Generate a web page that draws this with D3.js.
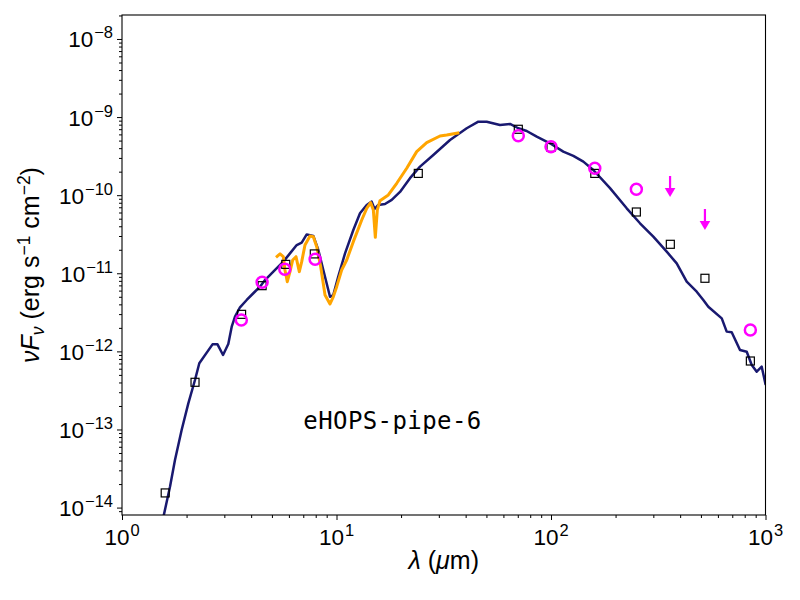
<!DOCTYPE html>
<html lang="en">
<head>
<meta charset="UTF-8">
<title>eHOPS-pipe-6 SED</title>
<script src="https://d3js.org/d3.v7.min.js"></script>
<style>
  body { margin: 0; background: #fff; }
  svg text { font-family: "Liberation Sans", Arial, Helvetica, sans-serif; fill: #000; }
  .tick line { stroke: #000; stroke-width: 1; }
</style>
</head>
<body>
<svg id="chart" width="800" height="600"></svg>
<script>
// model SED (wavelength in micron, nuFnu in erg s^-1 cm^-2)
const modelWave = [1.55, 1.674, 1.766, 1.897, 2.038, 2.189, 2.293, 2.642, 2.788, 2.958, 3.13, 3.247, 3.364, 3.549, 3.814,
  4.095, 4.399, 4.642, 5.076, 5.649, 6.07, 6.525, 6.884, 7.262, 7.797, 8.228, 8.68, 9.326, 9.66, 10.19, 10.96, 11.98,
  12.87, 13.83, 14.59, 15.04, 15.66, 16.83, 18.09, 19.77, 22.01, 24.51, 28.27, 33.82, 40.46, 45.83, 50.15, 57.83,
  64.41, 70.41, 77.04, 85.8, 98.9, 114.1, 127.1, 141.5, 157.5, 188.4, 225.4, 260.0, 299.9, 346.3, 385.5, 429.2,
  477.9, 512.9, 541.3, 625.2, 659.4, 695.8, 760.5, 817.5, 862.7, 910.0, 960.0, 1002];
const modelFlux = [7.0e-15, 1.85e-14, 4.07e-14, 9.86e-14, 2.16e-13, 4.30e-13, 7.05e-13, 1.23e-12, 1.23e-12, 9.0e-13,
  1.245e-12, 2.07e-12, 2.78e-12, 3.67e-12, 4.55e-12, 5.55e-12, 6.74e-12, 8.2e-12, 1.05e-11, 1.41e-11, 1.80e-11,
  2.30e-11, 2.47e-11, 3.14e-11, 3.0e-11, 1.99e-11, 1.10e-11, 5.0e-12, 5.27e-12, 9.04e-12, 1.80e-11, 3.58e-11,
  5.86e-11, 7.5e-11, 8.26e-11, 6.65e-11, 7.5e-11, 7.71e-11, 8.69e-11, 1.10e-10, 1.65e-10, 2.32e-10, 3.27e-10,
  5.09e-10, 7.19e-10, 8.73e-10, 8.73e-10, 7.93e-10, 8.17e-10, 7.19e-10, 6.64e-10, 5.61e-10, 4.62e-10, 3.61e-10,
  3.18e-10, 2.69e-10, 2.10e-10, 1.23e-10, 6.79e-11, 4.37e-11, 2.94e-11, 1.89e-11, 1.34e-11, 7.80e-12, 5.81e-12,
  4.55e-12, 3.73e-12, 2.65e-12, 1.79e-12, 1.76e-12, 1.04e-12, 9.9e-13, 6.70e-13, 5.50e-13, 6.37e-13, 3.72e-13];

// IRS spectrum
const specWave = [5.224, 5.454, 5.649, 5.75, 5.897, 6.07, 6.25, 6.476, 6.709, 6.884, 7.13, 7.524, 7.797, 8.087, 8.44,
  8.84, 9.326, 9.66, 10.02, 10.57, 11.16, 11.98, 13.11, 13.83, 14.43, 14.85, 15.17, 15.50, 15.95, 17.44, 19.09,
  21.25, 23.65, 26.33, 30.38, 32.65, 37.37];
const specFlux = [1.60e-11, 1.77e-11, 1.63e-11, 1.10e-11, 7.80e-12, 1.05e-11, 1.48e-11, 1.63e-11, 1.05e-11, 1.41e-11,
  2.30e-11, 3.0e-11, 2.94e-11, 2.19e-11, 1.21e-11, 5.27e-12, 4.05e-12, 5.0e-12, 6.74e-12, 1.10e-11, 1.48e-11,
  2.54e-11, 4.81e-11, 6.79e-11, 8.02e-11, 6.47e-11, 2.89e-11, 6.47e-11, 8.51e-11, 1.007e-10, 1.42e-10, 2.21e-10,
  3.61e-10, 4.70e-10, 5.73e-10, 5.90e-10, 6.31e-10];

// model photometry (squares)
const photWave = [1.59, 2.19, 3.61, 4.5, 5.8, 7.88, 24.06, 70.4, 100, 160, 250, 360, 522, 850];
const photFlux = [1.54e-14, 4.02e-13, 2.98e-12, 6.94e-12, 1.30e-11, 1.77e-11, 1.90e-10, 6.98e-10, 4.10e-10,
  1.90e-10, 6.09e-11, 2.35e-11, 8.63e-12, 7.53e-13];

// observed photometry (circles)
const obsWave = [3.6, 4.5, 5.74, 7.95, 70.4, 100, 160, 250, 850];
const obsFlux = [2.52e-12, 7.67e-12, 1.13e-11, 1.51e-11, 5.78e-10, 4.18e-10, 2.21e-10, 1.19e-10, 1.88e-12];

// upper limits (arrows)
const limWave = [359, 522];
const limFlux = [1.76e-10, 6.65e-11];

const xMajor = [1, 10, 100, 1000];
const yMajor = [1e-14, 1e-13, 1e-12, 1e-11, 1e-10, 1e-9, 1e-8];
const xExp = ["0", "1", "2", "3"];
const yExp = ["\u221214", "\u221213", "\u221212", "\u221211", "\u221210", "\u22129", "\u22128"];

const margin = {top: 15, right: 34.5, bottom: 85, left: 122},
      width = 800 - margin.left - margin.right,
      height = 600 - margin.top - margin.bottom;

const x = d3.scaleLog().domain([1, 1000]).range([0, width]);
const y = d3.scaleLog().domain([Math.pow(10, -14.095), Math.pow(10, -7.693)]).range([height, 0]);

function minors(lo, hi) {
  const out = [];
  for (let e = lo; e < hi; e++)
    for (let k = 2; k <= 9; k++) out.push(k * Math.pow(10, e));
  return out;
}
const xMinor = minors(0, 3);
const yMinor = minors(-15, -7).filter(v => v >= y.domain()[0] && v <= y.domain()[1]);

const svg = d3.select("#chart").append("g")
    .attr("transform", `translate(${margin.left},${margin.top})`);

svg.append("defs").append("clipPath").attr("id", "clip")
  .append("rect").attr("width", width).attr("height", height);

// ticks
svg.append("g").attr("transform", `translate(0,${height})`)
  .call(d3.axisBottom(x).tickValues(xMajor).tickSize(5).tickFormat(""))
  .call(g => g.select(".domain").remove());
svg.append("g").attr("transform", `translate(0,${height})`)
  .call(d3.axisBottom(x).tickValues(xMinor).tickSize(3).tickFormat(""))
  .call(g => g.select(".domain").remove());
svg.append("g")
  .call(d3.axisLeft(y).tickValues(yMajor).tickSize(5).tickFormat(""))
  .call(g => g.select(".domain").remove());
svg.append("g")
  .call(d3.axisLeft(y).tickValues(yMinor).tickSize(3).tickFormat(""))
  .call(g => g.select(".domain").remove());

// tick labels
xMajor.forEach((v, i) => {
  const t = svg.append("text").attr("x", x(v)).attr("y", height + 30)
    .attr("text-anchor", "middle").style("font-size", "22.5px");
  t.append("tspan").text("10");
  t.append("tspan").attr("dy", -9).attr("dx", 1).style("font-size", "16.5px").text(xExp[i]);
});
yMajor.forEach((v, i) => {
  const t = svg.append("text").attr("x", -9).attr("y", y(v) + 8.5)
    .attr("text-anchor", "end").style("font-size", "22.5px");
  t.append("tspan").text("10");
  t.append("tspan").attr("dy", -9).attr("dx", 1).style("font-size", "16.5px").text(yExp[i]);
});

// curves
const line = d3.line().x(d => x(d[0])).y(d => y(d[1]));
const plot = svg.append("g").attr("clip-path", "url(#clip)");

plot.append("path").datum(d3.zip(modelWave, modelFlux))
  .attr("d", line).attr("fill", "none")
  .attr("stroke", "#191970").attr("stroke-width", 2.5).attr("stroke-linejoin", "round");

plot.append("path").datum(d3.zip(specWave, specFlux))
  .attr("d", line).attr("fill", "none")
  .attr("stroke", "#FFA500").attr("stroke-width", 3).attr("stroke-linejoin", "round");

// squares
plot.selectAll(".phot").data(d3.zip(photWave, photFlux)).join("rect")
  .attr("class", "phot")
  .attr("x", d => x(d[0]) - 4).attr("y", d => y(d[1]) - 4)
  .attr("width", 8).attr("height", 8)
  .attr("fill", "none").attr("stroke", "#000").attr("stroke-width", 1.2);

// circles
plot.selectAll(".obs").data(d3.zip(obsWave, obsFlux)).join("circle")
  .attr("class", "obs")
  .attr("cx", d => x(d[0])).attr("cy", d => y(d[1])).attr("r", 5.5)
  .attr("fill", "none").attr("stroke", "#FF00FF").attr("stroke-width", 2.5);

// upper limits
const lims = plot.selectAll(".lim").data(d3.zip(limWave, limFlux)).join("g")
  .attr("class", "lim")
  .attr("transform", d => `translate(${x(d[0])},${y(d[1])})`);
lims.append("line").attr("x1", 0).attr("x2", 0).attr("y1", 0).attr("y2", 14)
  .attr("stroke", "#FF00FF").attr("stroke-width", 2.2);
lims.append("path").attr("d", "M-5.3,12L5.3,12L0,21Z").attr("fill", "#FF00FF");

// frame
svg.append("rect").attr("width", width).attr("height", height)
  .attr("fill", "none").attr("stroke", "#000").attr("stroke-width", 1.1);

// annotation
svg.append("text").attr("x", x(7)).attr("y", y(1e-13))
  .style("font-family", "'DejaVu Sans Mono', monospace").style("font-size", "24px")
  .attr("textLength", 178).attr("lengthAdjust", "spacing")
  .text("eHOPS-pipe-6");

// axis labels
const xl = svg.append("text").attr("x", width / 2).attr("y", height + 54)
  .attr("text-anchor", "middle").style("font-size", "25px");
xl.append("tspan").style("font-style", "italic").text("\u03bb");
xl.append("tspan").text(" (");
xl.append("tspan").style("font-style", "italic").text("\u03bc");
xl.append("tspan").text("m)");

const yl = svg.append("text")
  .attr("transform", `translate(${-83},${height / 2}) rotate(-90)`)
  .attr("text-anchor", "middle").style("font-size", "25px");
yl.append("tspan").style("font-style", "italic").text("\u03bdF");
yl.append("tspan").attr("dy", 5).style("font-style", "italic").style("font-size", "17.5px").text("\u03bd");
yl.append("tspan").attr("dy", -5).text(" (erg s");
yl.append("tspan").attr("dy", -9).style("font-size", "17.5px").text("\u22121");
yl.append("tspan").attr("dy", 9).text(" cm");
yl.append("tspan").attr("dy", -9).style("font-size", "17.5px").text("\u22122");
yl.append("tspan").attr("dy", 9).text(")");
</script>
</body>
</html>
